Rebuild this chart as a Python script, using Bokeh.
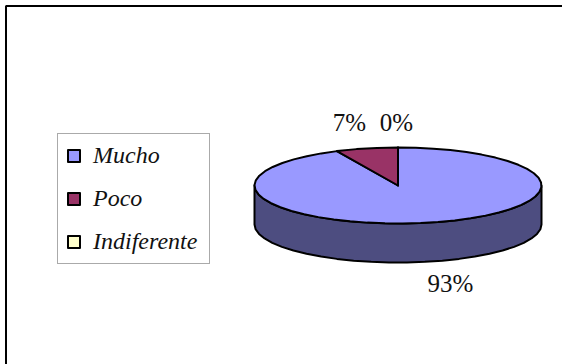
import numpy as np
from bokeh.core.properties import value
from bokeh.embed import file_html
from bokeh.models import Legend, LegendItem, Range1d
from bokeh.plotting import figure
from bokeh.resources import INLINE

# Survey answers and their pie shares
categories = ["Mucho", "Poco", "Indiferente"]
shares = [93, 7, 0]
share_labels = ["93%", "7%", "0%"]
top_colors = ["#9999FF", "#993366", "#FFFFCC"]
side_color = "#4D4D80"

# Pie geometry on the page's pixel grid
CX, CY, RX, RY, DEPTH = 397.5, 185.0, 143.5, 38.0, 39.0
FONT = "Liberation Serif"

p = figure(width=562, height=364, output_backend="svg", toolbar_location=None,
           x_range=Range1d(0, 562), y_range=Range1d(364, 0),
           min_border=0, outline_line_color=None)
p.axis.visible = False
p.grid.visible = False
p.background_fill_color = "white"
p.border_fill_color = "white"

# Chart frame: only the left and top edges show
p.line([5.5, 5.5, 562], [364, 5.5, 5.5], line_color="black", line_width=2)


def rim(a, b, step=7.0):
    """Points on the top ellipse, clockwise angles in degrees from 12 o'clock."""
    n = max(2, int(abs(b - a) / step) + 1)
    t = np.radians(np.linspace(a, b, n))
    return CX + RX * np.sin(t), CY - RY * np.cos(t)


# Side wall: the front half of the rim extruded downward
fx, fy = rim(90, 270)
p.patch(np.r_[fx, fx[::-1]], np.r_[fy, fy[::-1] + DEPTH],
        fill_color=side_color, line_color="black", line_width=2, line_join="round")

# Top face, one wedge for each category, clockwise from 12 o'clock
items = []
start = 0.0
for name, share, color in zip(categories, shares, top_colors):
    sweep = share / sum(shares) * 360
    x, y = rim(start, start + sweep)
    r = p.patch(np.r_[CX, x], np.r_[CY, y], fill_color=color,
                line_color="black", line_width=2, line_join="round")
    items.append(LegendItem(label=name, renderers=[r]))
    start += sweep

# Share labels placed next to their wedges
p.text([450, 349, 396], [283, 122, 122], text=share_labels, text_align="center",
       text_baseline="middle", text_font=value(FONT), text_font_size="25px",
       text_color="#111111")

legend = Legend(items=items, location=(57, 100), orientation="vertical",
                label_text_font=FONT, label_text_font_style="italic",
                label_text_font_size="24px", label_text_color="#111111",
                glyph_width=15, glyph_height=15, spacing=16, padding=8, margin=0,
                label_standoff=12, label_width=108,
                border_line_color="#555555", border_line_width=1,
                background_fill_alpha=1, background_fill_color="white",
                click_policy="none")
p.add_layout(legend, "center")

open("out.html", "w").write(file_html(p, INLINE))
